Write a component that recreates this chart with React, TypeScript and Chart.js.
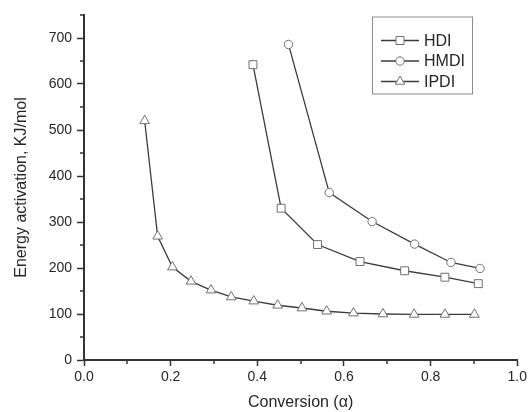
import React, { useEffect, useRef } from 'react';
import { Chart, registerables } from 'chart.js';

Chart.register(...registerables);

const seriesLabels = ['HDI', 'HMDI', 'IPDI'];
const pointStyles = ['rect', 'circle', 'triangle'];

const hdiX = [0.39, 0.455, 0.539, 0.637, 0.74, 0.833, 0.91];
const hdiY = [642, 330, 251, 214, 194, 180, 166];

const hmdiX = [0.472, 0.566, 0.665, 0.763, 0.847, 0.914];
const hmdiY = [686, 364, 301, 252, 212, 199];

const ipdiX = [0.14, 0.17, 0.204, 0.247, 0.293, 0.34, 0.392, 0.447, 0.503, 0.56, 0.622, 0.69, 0.762, 0.833, 0.901];
const ipdiY = [520, 269, 202, 171, 152, 137, 128, 119, 113, 106, 102, 100, 99, 99, 99];

const xMinorTicks = [0.1, 0.3, 0.5, 0.7, 0.9];
const yMinorTicks = [50, 150, 250, 350, 450, 550, 650, 750];

const xTitle = 'Conversion (\u03b1)';
const yTitle = 'Energy activation, KJ/mol';

const FONT = '"Liberation Sans", Arial, Helvetica, sans-serif';
const AXIS = '#333333';
const LINE = '#3c3c3c';
const MARK = '#707070';
const TEXT = '#262626';

const toPoints = (xs: number[], ys: number[]) => xs.map((x, i) => ({ x, y: ys[i] }));

function drawMarker(ctx: CanvasRenderingContext2D, style: string, x: number, y: number) {
  ctx.beginPath();
  if (style === 'rect') {
    ctx.rect(x - 4, y - 4, 8, 8);
  } else if (style === 'circle') {
    ctx.arc(x, y, 4.2, 0, Math.PI * 2);
  } else {
    const r = 5.4;
    ctx.moveTo(x, y - r);
    ctx.lineTo(x + r * 0.866, y + r * 0.5);
    ctx.lineTo(x - r * 0.866, y + r * 0.5);
    ctx.closePath();
  }
  ctx.fillStyle = '#ffffff';
  ctx.fill();
  ctx.strokeStyle = MARK;
  ctx.lineWidth = 1;
  ctx.stroke();
}

const minorTicksPlugin = {
  id: 'minorTicks',
  afterDraw(chart: any) {
    const ctx = chart.ctx as CanvasRenderingContext2D;
    const xs = chart.scales.x;
    const ys = chart.scales.y;
    ctx.save();
    ctx.strokeStyle = AXIS;
    ctx.lineWidth = 1.5;
    xMinorTicks.forEach((v) => {
      const px = Math.round(xs.getPixelForValue(v));
      ctx.beginPath();
      ctx.moveTo(px, chart.chartArea.bottom);
      ctx.lineTo(px, chart.chartArea.bottom + 4);
      ctx.stroke();
    });
    yMinorTicks.forEach((v) => {
      const py = Math.round(ys.getPixelForValue(v));
      ctx.beginPath();
      ctx.moveTo(chart.chartArea.left, py);
      ctx.lineTo(chart.chartArea.left - 4, py);
      ctx.stroke();
    });
    ctx.restore();
  },
};

const boxLegendPlugin = {
  id: 'boxLegend',
  afterDraw(chart: any) {
    const ctx = chart.ctx as CanvasRenderingContext2D;
    const area = chart.chartArea;
    const boxLeft = area.left + 288;
    const boxTop = area.top + 1.5;
    const boxW = 100;
    const boxH = 77;
    ctx.save();
    ctx.fillStyle = '#ffffff';
    ctx.fillRect(boxLeft, boxTop, boxW, boxH);
    ctx.strokeStyle = '#8c8c8c';
    ctx.lineWidth = 1;
    ctx.strokeRect(boxLeft + 0.5, boxTop + 0.5, boxW, boxH);
    ctx.font = '16px ' + FONT;
    ctx.textBaseline = 'middle';
    ctx.textAlign = 'left';
    chart.data.datasets.forEach((ds: any, i: number) => {
      const cy = boxTop + 24 + i * 20.5;
      ctx.strokeStyle = LINE;
      ctx.lineWidth = 1.3;
      ctx.beginPath();
      ctx.moveTo(boxLeft + 9, cy);
      ctx.lineTo(boxLeft + 47, cy);
      ctx.stroke();
      drawMarker(ctx, ds.pointStyle, boxLeft + 28, cy);
      ctx.fillStyle = TEXT;
      ctx.fillText(ds.label, boxLeft + 52, cy + 1);
    });
    ctx.restore();
  },
};

export default function App() {
  const canvasRef = useRef<HTMLCanvasElement | null>(null);

  useEffect(() => {
    const canvas = canvasRef.current;
    if (!canvas) return;
    const seriesX = [hdiX, hmdiX, ipdiX];
    const seriesY = [hdiY, hmdiY, ipdiY];
    const chart = new Chart(canvas, {
      type: 'line',
      data: {
        datasets: seriesLabels.map((label, i) => ({
          label,
          data: toPoints(seriesX[i], seriesY[i]),
          borderColor: LINE,
          borderWidth: 1.3,
          tension: 0,
          fill: false,
          pointStyle: pointStyles[i],
          pointRadius: i === 0 ? 5.6 : i === 1 ? 4.2 : 5.6,
          pointBackgroundColor: '#ffffff',
          pointBorderColor: MARK,
          pointBorderWidth: 1,
        })),
      },
      options: {
        responsive: false,
        animation: false,
        devicePixelRatio: 1,
        layout: { padding: { top: 15, right: 10, left: 0, bottom: 0 } },
        plugins: {
          legend: { display: false },
          tooltip: { enabled: false },
        },
        scales: {
          x: {
            type: 'linear',
            min: 0,
            max: 1,
            afterFit: (s: any) => {
              s.height = 52;
            },
            ticks: {
              stepSize: 0.2,
              includeBounds: false,
              padding: 3,
              color: TEXT,
              font: { family: FONT, size: 14 },
              maxRotation: 0,
              callback: (v: any) => Number(v).toFixed(1),
            },
            grid: {
              display: true,
              drawOnChartArea: false,
              drawTicks: true,
              tickLength: 6,
              tickColor: AXIS,
              tickWidth: 1.5,
            },
            border: { display: true, color: AXIS, width: 2 },
            title: {
              display: true,
              text: xTitle,
              color: TEXT,
              font: { family: FONT, size: 16 },
              padding: { top: 0, bottom: 0 },
            },
          },
          y: {
            type: 'linear',
            min: 0,
            max: 750,
            afterFit: (s: any) => {
              s.width = 84;
            },
            ticks: {
              stepSize: 100,
              includeBounds: false,
              padding: 5,
              color: TEXT,
              font: { family: FONT, size: 14 },
            },
            grid: {
              display: true,
              drawOnChartArea: false,
              drawTicks: true,
              tickLength: 7,
              tickColor: AXIS,
              tickWidth: 1.5,
            },
            border: { display: true, color: AXIS, width: 2 },
            title: {
              display: true,
              text: yTitle,
              color: TEXT,
              font: { family: FONT, size: 16 },
              padding: { top: 12, bottom: 0 },
            },
          },
        },
      },
      plugins: [minorTicksPlugin, boxLegendPlugin],
    } as any);
    return () => chart.destroy();
  }, []);

  return (
    <div style={{ position: 'absolute', left: 0, top: 0, width: 530, height: 412, background: '#ffffff' }}>
      <canvas ref={canvasRef} width={530} height={412} style={{ display: 'block', width: 530, height: 412 }} />
    </div>
  );
}
